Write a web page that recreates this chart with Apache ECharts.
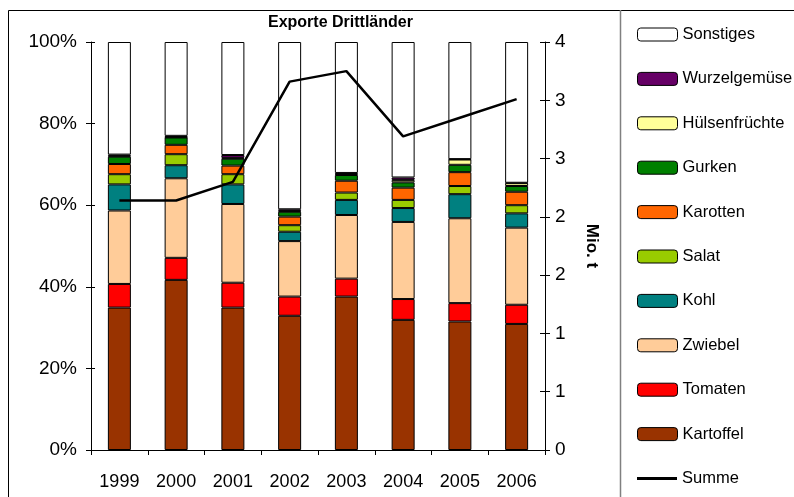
<!DOCTYPE html>
<html><head><meta charset="utf-8">
<script src="https://cdn.jsdelivr.net/npm/echarts@6/dist/echarts.min.js"></script>
<style>html,body{margin:0;padding:0;background:#fff}#c{width:794px;height:497px}</style>
</head><body><div id="c"></div>
<script>
const years = ['1999','2000','2001','2002','2003','2004','2005','2006'];
const kartoffel = [34.9, 41.7, 34.9, 32.9, 37.6, 31.9, 31.5, 30.9];
const tomaten   = [5.8, 5.4, 6.1, 4.7, 4.4, 5.1, 4.5, 4.7];
const zwiebel   = [18.0, 19.5, 19.3, 13.6, 15.6, 18.9, 20.8, 18.9];
const kohl      = [6.4, 3.2, 4.8, 2.3, 3.7, 3.4, 5.9, 3.5];
const salat     = [2.5, 2.7, 2.5, 1.6, 1.8, 2.0, 2.0, 2.0];
const karotten  = [2.5, 2.3, 2.1, 2.1, 2.9, 3.0, 3.4, 3.3];
const gurken    = [1.8, 1.8, 1.7, 1.2, 1.4, 1.3, 1.8, 1.4];
const huelsen   = [0.2, 0.1, 0.2, 0.2, 0.2, 0.6, 1.3, 0.7];
const wurzel    = [0.3, 0.3, 0.7, 0.4, 0.3, 0.6, 0.1, 0.1];
const sonstiges = [27.6, 23.0, 27.7, 41.0, 32.1, 33.2, 28.7, 34.5];
const summe     = [2.14, 2.14, 2.30, 3.16, 3.25, 2.69, 2.85, 3.01];
const leftTicks = [0, 20, 40, 60, 80, 100];
const rightTicks = [0, 0.5, 1, 1.5, 2, 2.5, 3, 3.5];

const FONT = 'Liberation Sans, Arial, sans-serif';
const barDefs = [
  ['Kartoffel', kartoffel, '#993300'],
  ['Tomaten', tomaten, '#FF0000'],
  ['Zwiebel', zwiebel, '#FFCC99'],
  ['Kohl', kohl, '#008080'],
  ['Salat', salat, '#99CC00'],
  ['Karotten', karotten, '#FF6600'],
  ['Gurken', gurken, '#008000'],
  ['Hülsenfrüchte', huelsen, '#FFFF99'],
  ['Wurzelgemüse', wurzel, '#660066'],
  ['Sonstiges', sonstiges, '#FFFFFF']
];
const series = barDefs.map(([name, data, color]) => ({
  name, type: 'bar', stack: 'a', data, barWidth: 23, yAxisIndex: 0,
  itemStyle: { color, borderColor: '#000', borderWidth: 1 },
  emphasis: { disabled: true }
}));
series.push({
  name: 'Summe', type: 'line', data: summe, yAxisIndex: 1, symbol: 'none',
  lineStyle: { color: '#000', width: 2.5 }, itemStyle: { color: '#000' }, z: 10
});

const legendNames = ['Sonstiges','Wurzelgemüse','Hülsenfrüchte','Gurken','Karotten','Salat','Kohl','Zwiebel','Tomaten','Kartoffel'];
const legendText = { fontFamily: FONT, fontSize: 16.5, color: '#000', lineHeight: 16 };
const chart = echarts.init(document.getElementById('c'));
chart.setOption({
  animation: false,
  backgroundColor: '#fff',
  textStyle: { fontFamily: FONT },
  title: {
    text: 'Exporte Drittländer', left: 268, top: 15, padding: 0,
    textStyle: { fontFamily: FONT, fontWeight: 'bold', fontSize: 16, color: '#000' }
  },
  grid: { left: 91, right: 249, top: 42, bottom: 47 },
  legend: [
    {
      orient: 'vertical', left: 637, top: 26, padding: 0,
      itemWidth: 40, itemHeight: 13, itemGap: 27.4,
      data: legendNames,
      textStyle: legendText,
      itemStyle: { borderColor: '#000', borderWidth: 1 }
    },
    {
      orient: 'vertical', left: 637, top: 470, padding: 0,
      itemWidth: 40, itemHeight: 3,
      data: [{ name: 'Summe', icon: 'rect' }],
      textStyle: legendText
    }
  ],
  xAxis: {
    type: 'category', data: years,
    axisLine: { lineStyle: { color: '#000', width: 1 } },
    axisTick: { show: true, length: 5, lineStyle: { color: '#000' } },
    axisLabel: { fontFamily: FONT, fontSize: 18, color: '#000', margin: 23 }
  },
  yAxis: [
    {
      type: 'value', min: 0, max: 100, interval: 20, position: 'left',
      axisLine: { show: true, lineStyle: { color: '#000' } },
      axisTick: { show: true, length: 5, lineStyle: { color: '#000' } },
      splitLine: { show: false },
      axisLabel: { fontFamily: FONT, fontSize: 19, color: '#000', margin: 14,
        formatter: v => leftTicks.includes(v) ? v + '%' : '' }
    },
    {
      type: 'value', min: 0, max: 3.5, interval: 0.5, position: 'right',
      name: 'Mio. t', nameLocation: 'middle', nameRotate: -90, nameGap: 38,
      nameTextStyle: { fontFamily: FONT, fontWeight: 'bold', fontSize: 17, color: '#000' },
      axisLine: { show: true, lineStyle: { color: '#000' } },
      axisTick: { show: true, length: 5, lineStyle: { color: '#000' } },
      splitLine: { show: false },
      axisLabel: { fontFamily: FONT, fontSize: 19, color: '#000', margin: 10,
        formatter: v => rightTicks.includes(v) ? String(Math.round(v)) : '' }
    },
    {
      type: 'value', min: 0, max: 3.5, interval: 0.5, position: 'right',
      axisLine: { show: false }, axisLabel: { show: false }, splitLine: { show: false },
      axisTick: { show: true, inside: true, length: 5, lineStyle: { color: '#000' } }
    },
    {
      type: 'value', min: 0, max: 100, interval: 20, position: 'left',
      axisLine: { show: false }, axisLabel: { show: false }, splitLine: { show: false },
      axisTick: { show: true, inside: true, length: 4, lineStyle: { color: '#000' } }
    }
  ],
  graphic: [
    { type: 'rect', shape: { x: 8.5, y: 10.5, width: 800, height: 500 },
      style: { fill: null, stroke: '#000', lineWidth: 1 }, z: -1, silent: true },
    { type: 'line', shape: { x1: 620.5, y1: 10, x2: 620.5, y2: 497 },
      style: { stroke: '#808080', lineWidth: 1.5 }, silent: true }
  ],
  series
});
</script></body></html>
